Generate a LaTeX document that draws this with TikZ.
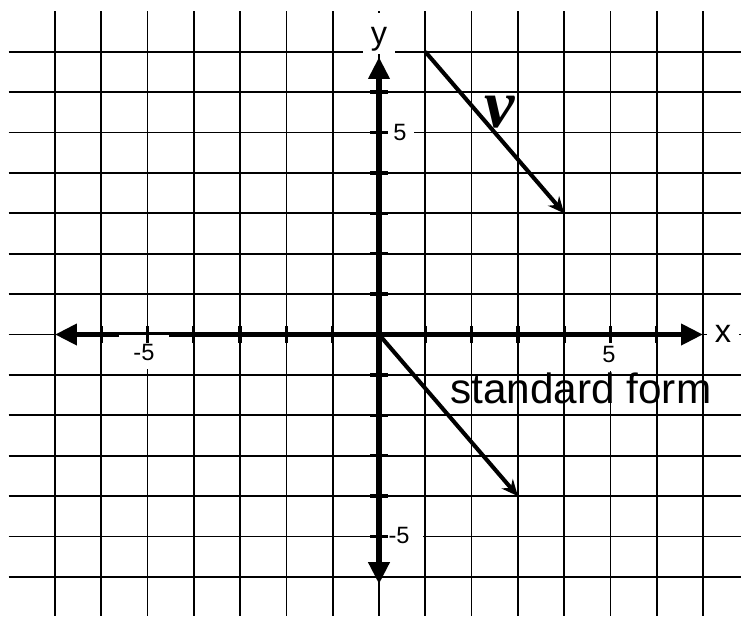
\documentclass[tikz,border=0pt]{standalone}
\usepackage{fontspec}
\setmainfont{Liberation Sans}
\newfontfamily\vecfont{Liberation Serif}
\usetikzlibrary{arrows.meta}

\begin{document}
\begin{tikzpicture}[x=1cm, y=0.8726cm,
      gridline/.style={black, line width=1pt},
      axis/.style={line width=3.4pt,
                   {Triangle[length=13.5pt,width=12.5pt]}-{Triangle[length=13.5pt,width=12.5pt]}},
      axtick/.style={line width=2pt},
      vec/.style={-{Stealth[length=10pt,width=9pt]}, line width=2.5pt},
      numlbl/.style={fill=white, inner xsep=4.5pt, inner ysep=5pt, anchor=base,
                     font=\fontsize{14.5}{17}\selectfont},
      axlbl/.style={fill=white, inner xsep=4.8pt, inner ysep=1.5pt, anchor=base,
                    font=\fontsize{20}{24}\selectfont},
    ]
      \useasboundingbox (-8.186,-6.968) rectangle (7.819,8.280);
      %% Grid
      \foreach \y in {-6,...,7}{
        \draw[gridline] (-8,\y) -- (7.819,\y);
      }
      \foreach \x in {-7,...,7}{
        \draw[gridline] (\x,8) -- (\x,-6.968);
      }
      %% Axis and number labels
      \node[axlbl, text height=18pt] (ylab) at (0,7.166) {y};
      \node[axlbl] (xlab) at (7.43,-0.21) {x};
      \node[numlbl] (yfive) at (0.454,4.814) {5};
      \node[numlbl, inner xsep=8pt] (ymfive) at (0.432,-5.161) {-5};
      \node[numlbl] (xfive) at (4.968,-0.705) {5};
      %% Axes
      \coordinate (O) at (0,0);
      \coordinate (xl) at (-7,0);
      \coordinate (xr) at (7,0);
      \coordinate (yb) at (0,-6.18);
      \coordinate (yt) at (0,6.87);
      \draw[axis] (xl) -- (xr);
      \draw[axis] (yb) -- (yt);
      \node[numlbl, inner xsep=8.7pt, inner ysep=5.3pt] (xmfive) at (-5.076,-0.631) {-5};
      \foreach \x in {-6,...,-1,1,2,...,6}{
        \draw[axtick] (\x,-0.2) -- (\x,0.2);
      }
      \foreach \y in {-5,...,-1,1,2,...,6}{
        \draw[axtick] (-0.19,\y) -- (0.19,\y);
      }
      %% Vectors
      \coordinate (vtail) at (1,7);
      \coordinate (vhead) at (4,3);
      \coordinate (shead) at (3,-4);
      \draw[vec] (vtail) -- (vhead);
      \draw[vec] (O) -- (shead);
      \node[font=\vecfont\bfseries\itshape\fontsize{42}{48}\selectfont, anchor=base,
            inner sep=0pt] (vlab) at (2.6,5.136) {v};
      \node[font=\fontsize{26}{30}\selectfont, anchor=base west, inner sep=0pt]
            (stdlab) at (1.533,-1.72) {standard form};
    \end{tikzpicture}
\end{document}
